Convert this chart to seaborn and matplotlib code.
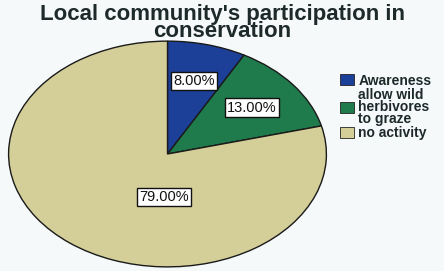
import numpy as np
import seaborn as sns
import matplotlib.pyplot as plt
from matplotlib.patches import Patch

sns.set_theme(style="white")
plt.rcParams["font.family"] = ["Liberation Sans", "DejaVu Sans"]

# ── data ──────────────────────────────────────────────────────────────────────
categories = ["Awareness", "allow wild\nherbivores\nto graze", "no activity"]
shares = [8.0, 13.0, 79.0]
colors = ["#1c3f98", "#1f7a4c", "#d4cf98"]
title = "Local community's participation in\nconservation"

BG = "#f5f9fa"

fig = plt.figure(figsize=(4.44, 2.71), dpi=100, facecolor=BG)
fig.text(0.5, 1 - 4 / 271, title, ha="center", va="top", fontsize=16,
         fontweight="bold", color="#1e2a2a", linespacing=0.78)

# pie is drawn stretched into an ellipse, as in the original
ax = fig.add_axes([7 / 444, 3 / 271, 321 / 444, 228 / 271])
ax.set_facecolor(BG)
wedges, texts, autotexts = ax.pie(
    shares, colors=colors, startangle=90, counterclock=False,
    autopct="%.2f%%", pctdistance=0.67,
    wedgeprops=dict(edgecolor="#1a1a1a", linewidth=1.0),
    textprops=dict(fontsize=10.5, color="#111111"),
)
ax.set_aspect("auto")
ax.set_xlim(-1.01, 1.01)
ax.set_ylim(-1.01, 1.01)
ax.axis("off")

# the big slice label sits near the centre
autotexts[2].set_position((-0.02, -0.38))
for t in autotexts:
    t.set_bbox(dict(facecolor="white", edgecolor="#111111", linewidth=1.0,
                    boxstyle="square,pad=0.15"))

handles = [Patch(facecolor=c, edgecolor="#222222", linewidth=0.6) for c in colors]
leg = fig.legend(handles, categories, loc="upper left",
                 bbox_to_anchor=(334 / 444, 1 - 68 / 271), frameon=False,
                 prop=dict(size=10, weight="bold"), handlelength=1.05,
                 handleheight=0.8, handletextpad=0.3, labelspacing=0.0,
                 borderaxespad=0)
for t in leg.get_texts():
    t.set_color("#1e2a2a")
    t.set_linespacing(0.85)

fig.savefig("out.png", dpi=100, facecolor=BG)
